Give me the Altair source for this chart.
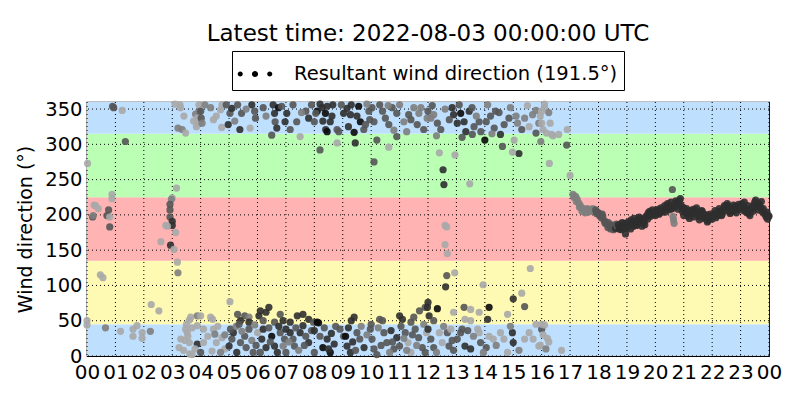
import altair as alt
import pandas as pd

title_text = "Latest time: 2022-08-03 00:00:00 UTC"
legend_label = "Resultant wind direction (191.5°)"
y_title = "Wind direction (°)"

band_lo = [0, 45, 135, 225, 315]
band_hi = [45, 135, 225, 315, 360]
band_color = ["#bfdfff", "#fffab3", "#ffb3b3", "#bbffb5", "#bfdfff"]

hour_ticks = list(range(0, 25))
dir_ticks = list(range(0, 351, 50))

# (hour of day, wind direction in degrees, wind-speed shade class 1=light .. 5=black)
obs_00_04 = [
    (0.94, 352, 3), (0.90, 354, 3), (1.24, 348, 1), (1.35, 304, 3), (0.02, 273, 1), (0.25, 214, 1),
    (0.30, 213, 1), (0.40, 209, 1), (0.20, 197, 3), (0.22, 199, 2), (0.88, 229, 1), (0.88, 223, 1),
    (0.76, 207, 3), (0.70, 199, 3), (0.80, 197, 1), (0.80, 183, 3), (0.47, 115, 1), (0.56, 111, 1),
    (0.00, 50, 1), (0.00, 44, 1), (0.65, 40, 2), (1.18, 35, 1), (1.62, 38, 1), (1.62, 28, 1),
    (1.76, 43, 1), (1.94, 33, 1), (1.94, 25, 1), (2.23, 35, 2), (2.26, 73, 1), (2.53, 64, 1),
    (3.15, 238, 1), (3.00, 224, 1), (2.97, 222, 2), (2.92, 215, 3), (2.92, 207, 3), (2.92, 197, 3),
    (3.00, 191, 4), (3.00, 185, 4), (2.77, 185, 1), (2.83, 184, 1), (3.12, 175, 1), (2.60, 162, 1),
    (2.94, 157, 4), (3.06, 151, 1), (3.18, 133, 1), (3.20, 118, 2), (3.65, 55, 1), (3.60, 51, 1),
    (3.88, 57, 2), (3.88, 43, 1), (3.47, 38, 1), (3.53, 33, 1), (3.30, 24, 1), (3.45, 22, 1),
    (3.60, 19, 1), (3.24, 12, 1), (3.70, 2, 1), (3.62, 3, 1), (3.88, 17, 4), (3.27, 356, 1),
    (3.29, 352, 1), (3.20, 323, 2), (3.35, 321, 2), (3.47, 316, 1), (3.41, 340, 1), (3.82, 343, 2),
    (3.88, 337, 1), (3.94, 330, 1), (3.94, 347, 2), (3.94, 356, 1), (3.75, 333, 1), (3.85, 325, 1),
    (3.10, 357, 1), (3.70, 40, 1), (3.55, 28, 1), (3.40, 8, 1), (3.80, 10, 1), (3.50, 45, 1),
]

obs_04_08 = [
    (4.00, 347, 3), (4.02, 337, 3), (4.05, 330, 2), (4.15, 356, 2), (4.70, 349, 1), (4.75, 356, 1),
    (4.74, 324, 1), (4.97, 328, 4), (5.03, 344, 3), (5.10, 351, 4), (4.90, 356, 3), (5.30, 356, 3),
    (5.38, 321, 4), (5.44, 344, 3), (5.74, 323, 1), (5.80, 356, 4), (5.90, 347, 3), (5.93, 337, 3),
    (6.55, 356, 4), (6.60, 344, 4), (6.62, 332, 3), (6.68, 323, 4), (6.74, 352, 5), (7.03, 344, 4),
    (6.97, 332, 4), (7.15, 321, 3), (7.38, 332, 3), (6.50, 313, 3), (7.50, 311, 1), (6.85, 354, 3),
    (7.70, 347, 3), (7.80, 337, 4), (7.90, 356, 3), (4.35, 352, 2), (4.55, 340, 1), (5.20, 333, 2),
    (5.60, 350, 2), (6.20, 352, 3), (6.30, 340, 2), (7.25, 356, 3), (7.55, 345, 2), (4.45, 335, 1),
    (5.03, 77, 1), (4.00, 57, 1), (4.35, 55, 1), (4.42, 52, 1), (5.30, 59, 3), (5.55, 57, 3),
    (5.70, 55, 2), (6.10, 64, 4), (6.05, 57, 4), (6.30, 62, 4), (6.40, 69, 4), (6.80, 59, 3),
    (7.40, 57, 4), (7.60, 59, 4), (7.80, 52, 4), (7.97, 48, 3), (5.40, 50, 4), (5.70, 48, 4),
    (6.20, 50, 3), (6.60, 48, 3), (6.90, 50, 4), (7.15, 48, 4), (4.10, 38, 1), (4.45, 38, 1),
    (4.50, 31, 2), (4.75, 26, 1), (4.55, 19, 1), (4.10, 19, 1), (4.00, 5, 3), (4.40, 7, 1),
    (4.85, 10, 1), (5.00, 14, 4), (5.10, 24, 3), (5.15, 33, 4), (5.05, 38, 3), (5.27, 5, 4),
    (5.40, 19, 3), (5.55, 28, 3), (5.70, 38, 3), (5.60, 12, 3), (5.85, 5, 3), (6.00, 33, 1),
    (6.15, 24, 4), (6.20, 38, 4), (6.30, 12, 4), (6.50, 28, 5), (6.60, 14, 4), (6.70, 5, 4),
    (6.80, 33, 3), (6.95, 24, 3), (7.00, 38, 4), (7.15, 33, 4), (7.25, 24, 3), (7.30, 14, 3),
    (7.50, 33, 4), (7.60, 43, 4), (7.70, 28, 3), (7.80, 19, 4), (7.90, 36, 3), (8.00, 5, 3),
    (7.00, 5, 3), (6.10, 5, 3), (4.60, 42, 1), (4.85, 30, 2), (5.25, 42, 2), (5.45, 35, 2),
    (5.80, 22, 2), (5.95, 15, 3), (6.40, 40, 3), (6.45, 20, 3), (6.90, 14, 2), (7.35, 40, 3),
    (7.45, 8, 2), (7.65, 15, 3), (4.25, 28, 1), (4.70, 5, 2), (5.35, 45, 3), (5.90, 44, 2),
    (6.75, 42, 4), (7.10, 20, 2),
]

obs_08_12 = [
    (8.10, 347, 5), (8.27, 352, 4), (8.39, 344, 5), (8.45, 354, 4), (8.40, 321, 4), (8.45, 318, 5),
    (8.56, 332, 4), (8.62, 340, 4), (8.80, 321, 3), (8.86, 318, 3), (9.03, 344, 4), (9.15, 351, 4),
    (9.27, 342, 4), (9.40, 317, 5), (9.44, 302, 4), (9.56, 354, 5), (9.62, 332, 5), (9.74, 321, 3),
    (9.80, 328, 3), (9.92, 347, 3), (10.03, 352, 3), (10.10, 332, 3), (10.20, 306, 3), (10.10, 275, 3),
    (10.40, 347, 3), (10.50, 337, 3), (10.62, 328, 3), (10.62, 296, 1), (10.74, 352, 3), (10.90, 344, 3),
    (10.90, 311, 3), (11.15, 332, 2), (11.32, 342, 3), (11.50, 352, 2), (11.62, 328, 3), (11.68, 344, 2),
    (11.85, 321, 3), (11.97, 337, 2), (8.20, 292, 3), (8.80, 302, 1), (8.00, 332, 3), (8.05, 344, 3),
    (8.20, 357, 4), (8.65, 356, 4), (8.95, 356, 3), (9.30, 356, 4), (9.50, 340, 4), (9.85, 357, 2),
    (10.30, 356, 3), (10.60, 355, 2), (11.00, 356, 2), (11.40, 335, 3), (11.75, 352, 2), (9.20, 325, 4),
    (8.30, 333, 4), (10.80, 320, 2), (11.25, 318, 2), (9.95, 335, 3),
    (8.10, 48, 5), (8.15, 47, 5), (9.30, 50, 4), (9.40, 55, 4), (10.30, 52, 3), (10.40, 50, 3),
    (11.00, 57, 4), (11.10, 52, 4), (11.40, 48, 3), (11.50, 55, 3), (11.70, 64, 3), (11.90, 69, 3),
    (8.00, 36, 4), (8.20, 28, 3), (8.45, 24, 4), (8.30, 12, 5), (8.70, 17, 4), (8.56, 5, 5),
    (8.90, 38, 3), (9.03, 28, 3), (9.10, 28, 5), (9.15, 14, 4), (9.27, 5, 4), (9.50, 33, 3),
    (9.60, 24, 3), (9.75, 12, 4), (9.97, 38, 3), (10.03, 24, 3), (10.10, 10, 3), (10.20, 2, 3),
    (10.45, 33, 3), (10.55, 19, 3), (10.70, 36, 4), (10.90, 26, 4), (10.80, 10, 3), (11.00, 14, 3),
    (11.20, 33, 3), (11.30, 19, 1), (11.40, 5, 1), (11.55, 38, 3), (11.67, 26, 3), (11.80, 12, 3),
    (11.90, 5, 3), (11.95, 33, 1), (8.35, 40, 3), (8.60, 32, 4), (8.75, 42, 3), (9.20, 40, 4),
    (9.45, 8, 3), (9.65, 42, 2), (9.85, 30, 2), (10.25, 40, 2), (10.35, 15, 3), (10.65, 5, 2),
    (11.05, 42, 3), (11.15, 25, 2), (11.45, 30, 3), (11.60, 15, 2), (8.50, 10, 4), (9.35, 20, 4),
    (10.00, 45, 3), (10.75, 20, 3), (11.25, 8, 2), (11.85, 45, 2),
]

obs_12_16 = [
    (12.00, 347, 3), (12.10, 337, 2), (12.20, 342, 2), (12.33, 330, 3), (12.45, 321, 3), (12.85, 352, 4),
    (12.90, 342, 4), (13.03, 330, 4), (13.15, 344, 5), (13.27, 332, 4), (13.33, 318, 4), (13.45, 347, 4),
    (13.56, 314, 3), (13.62, 325, 3), (13.80, 332, 3), (13.86, 318, 3), (14.00, 306, 5), (14.05, 332, 3),
    (14.20, 340, 3), (14.33, 323, 3), (14.38, 347, 3), (14.55, 314, 4), (14.62, 297, 3), (14.68, 328, 3),
    (14.85, 337, 3), (15.03, 306, 1), (15.20, 287, 4), (14.97, 289, 1), (15.30, 321, 3), (15.40, 337, 2),
    (15.56, 325, 1), (15.68, 342, 2), (15.80, 316, 3), (15.90, 330, 2), (15.97, 304, 2), (12.40, 288, 1),
    (12.95, 285, 1), (12.53, 264, 4), (12.56, 243, 4), (13.47, 244, 1), (12.60, 185, 1), (12.66, 183, 1),
    (12.60, 158, 1), (12.68, 145, 1), (12.66, 114, 3), (12.94, 118, 1), (12.62, 98, 4), (13.94, 101, 1),
    (15.60, 124, 1), (15.00, 81, 4), (15.30, 89, 1), (15.40, 70, 3), (12.15, 355, 3), (12.60, 350, 2),
    (12.75, 335, 3), (13.10, 356, 3), (13.55, 352, 3), (13.70, 340, 2), (14.10, 356, 2), (14.50, 345, 3),
    (14.90, 352, 2), (15.10, 340, 2), (15.50, 355, 1), (15.80, 348, 2), (12.30, 312, 2), (13.20, 310, 3),
    (14.25, 315, 2), (15.15, 330, 2),
    (12.00, 76, 4), (11.98, 69, 4), (12.33, 67, 5), (12.04, 57, 4), (12.20, 50, 3), (12.90, 62, 1),
    (13.27, 69, 3), (13.50, 66, 1), (13.80, 62, 1), (14.15, 69, 5), (14.10, 52, 4), (14.80, 59, 1),
    (13.30, 52, 1), (13.50, 50, 1), (12.00, 38, 4), (12.10, 24, 3), (12.20, 12, 3), (12.40, 33, 1),
    (12.50, 19, 1), (12.68, 33, 3), (12.74, 14, 3), (12.80, 38, 1), (13.03, 24, 3), (13.15, 33, 3),
    (13.20, 38, 3), (13.40, 36, 3), (13.30, 14, 4), (13.50, 10, 4), (13.75, 38, 1), (13.80, 33, 1),
    (13.85, 19, 3), (14.05, 12, 3), (14.15, 28, 1), (14.30, 24, 1), (14.55, 33, 1), (14.67, 24, 1),
    (14.80, 5, 1), (14.97, 33, 4), (15.00, 19, 4), (15.40, 24, 1), (15.56, 33, 1), (15.70, 24, 1),
    (15.90, 14, 1), (16.00, 38, 3), (12.30, 5, 2), (12.55, 42, 2), (12.90, 8, 3), (13.60, 28, 2),
    (14.40, 15, 2), (14.90, 42, 2), (15.20, 8, 2), (15.80, 45, 1), (12.85, 22, 3), (13.95, 5, 2),
]

obs_16_17 = [
    (16.00, 347, 1), (16.10, 352, 1), (15.95, 340, 1), (16.00, 330, 1), (16.05, 321, 1), (16.17, 316, 1),
    (16.30, 330, 1), (16.35, 314, 1), (16.40, 312, 1), (16.60, 314, 1), (16.90, 321, 1), (16.88, 299, 3),
    (16.27, 273, 1), (17.00, 256, 1), (16.10, 357, 1), (16.25, 345, 2), (16.00, 45, 1), (16.10, 44, 1),
    (16.05, 30, 1), (16.20, 25, 1), (16.25, 20, 1), (16.70, 8, 1), (15.95, 15, 1), (16.15, 10, 2),
]

obs_17_24 = [
    (17.10, 229, 2), (17.13, 225, 2), (17.15, 227, 2), (17.20, 226, 2), (17.22, 219, 2), (17.25, 222, 2),
    (17.30, 217, 2), (17.33, 211, 2), (17.35, 214, 2), (17.40, 210, 2), (17.42, 205, 2), (17.45, 209, 2),
    (17.50, 208, 2), (17.53, 203, 2), (17.55, 207, 2), (17.60, 209, 2), (17.63, 204, 2), (17.65, 206, 2),
    (17.70, 208, 2), (17.73, 205, 2), (17.75, 207, 2), (17.80, 209, 2), (17.83, 206, 2), (17.85, 205, 2),
    (17.90, 207, 3), (17.93, 202, 3), (17.95, 204, 3), (18.00, 203, 3), (18.03, 199, 3), (18.05, 200, 3),
    (18.10, 196, 3), (18.13, 201, 3), (18.15, 198, 3), (18.20, 192, 3), (18.23, 188, 3), (18.25, 190, 3),
    (18.30, 187, 3), (18.33, 182, 3), (18.35, 189, 3), (18.40, 184, 3), (18.43, 180, 3), (18.45, 186, 3),
    (18.50, 183, 3), (18.53, 179, 3), (18.55, 185, 3), (18.60, 181, 4), (18.63, 187, 3), (18.65, 184, 3),
    (18.70, 186, 4), (18.73, 180, 4), (18.75, 182, 4), (18.80, 179, 4), (18.83, 189, 4), (18.85, 185, 4),
    (18.90, 188, 4), (18.93, 181, 4), (18.95, 173, 4), (19.00, 182, 4), (19.03, 187, 4), (19.05, 190, 4),
    (19.10, 186, 4), (19.13, 180, 4), (19.15, 193, 4), (19.20, 189, 4), (19.23, 184, 4), (19.25, 195, 4),
    (19.30, 191, 4), (19.33, 185, 4), (19.35, 186, 4), (19.40, 192, 4), (19.43, 197, 4), (19.45, 195, 4),
    (19.50, 189, 4), (19.53, 184, 4), (19.55, 193, 4), (19.60, 190, 4), (19.63, 186, 4), (19.65, 197, 4),
    (19.70, 199, 4), (19.73, 194, 4), (19.75, 203, 4), (19.80, 205, 4), (19.83, 198, 4), (19.85, 200, 4),
    (19.90, 207, 4), (19.93, 201, 4), (19.95, 203, 4), (20.00, 199, 4), (20.03, 206, 4), (20.05, 205, 4),
    (20.10, 208, 4), (20.13, 201, 4), (20.15, 203, 4), (20.20, 210, 4), (20.23, 204, 4), (20.25, 206, 4),
    (20.30, 209, 4), (20.33, 213, 4), (20.35, 204, 4), (20.40, 211, 4), (20.43, 216, 4), (20.45, 207, 4),
    (20.50, 214, 4), (20.53, 208, 4), (20.55, 218, 4), (20.60, 236, 3), (20.60, 209, 4), (20.62, 198, 2),
    (20.64, 193, 2), (20.66, 188, 2), (20.70, 212, 4), (20.72, 220, 4), (20.75, 217, 4), (20.80, 208, 4),
    (20.82, 214, 4), (20.85, 220, 4), (20.88, 223, 4), (20.90, 213, 4), (20.95, 205, 4), (20.97, 211, 4),
    (21.00, 199, 4), (21.03, 208, 4), (21.05, 204, 4), (21.10, 209, 4), (21.13, 202, 4), (21.15, 198, 4),
    (21.20, 195, 4), (21.23, 203, 4), (21.25, 206, 4), (21.30, 201, 4), (21.33, 208, 4), (21.35, 197, 4),
    (21.40, 207, 4), (21.43, 202, 4), (21.45, 210, 4), (21.50, 203, 4), (21.53, 198, 4), (21.55, 193, 4),
    (21.60, 199, 4), (21.63, 206, 4), (21.65, 205, 4), (21.70, 201, 4), (21.73, 195, 4), (21.75, 196, 4),
    (21.80, 200, 4), (21.83, 190, 4), (21.85, 192, 4), (21.90, 195, 4), (21.93, 201, 4), (21.95, 198, 4),
    (22.00, 194, 4), (22.03, 199, 4), (22.05, 200, 4), (22.10, 206, 4), (22.13, 196, 4), (22.15, 203, 4),
    (22.20, 199, 4), (22.23, 205, 4), (22.25, 209, 4), (22.30, 205, 4), (22.33, 199, 4), (22.35, 201, 4),
    (22.40, 208, 4), (22.43, 213, 4), (22.45, 211, 4), (22.50, 206, 4), (22.53, 216, 4), (22.55, 213, 4),
    (22.60, 209, 4), (22.63, 202, 4), (22.65, 204, 4), (22.70, 210, 4), (22.73, 205, 4), (22.75, 214, 4),
    (22.80, 207, 4), (22.83, 212, 4), (22.85, 203, 4), (22.90, 209, 4), (22.93, 215, 4), (22.95, 212, 4),
    (23.00, 207, 4), (23.03, 211, 4), (23.05, 216, 4), (23.10, 211, 4), (23.13, 218, 4), (23.15, 205, 4),
    (23.20, 209, 4), (23.23, 203, 4), (23.25, 213, 4), (23.30, 202, 4), (23.33, 199, 4), (23.35, 206, 4),
    (23.40, 210, 4), (23.43, 205, 4), (23.45, 214, 4), (23.50, 218, 4), (23.53, 221, 4), (23.55, 212, 4),
    (23.60, 207, 4), (23.63, 214, 4), (23.65, 216, 4), (23.70, 211, 4), (23.73, 219, 4), (23.75, 205, 4),
    (23.80, 209, 4), (23.83, 203, 4), (23.85, 201, 4), (23.90, 197, 4), (23.93, 204, 4), (23.95, 194, 4),
    (23.98, 199, 4), (24.00, 198, 4),
]

rows = obs_00_04 + obs_04_08 + obs_08_12 + obs_12_16 + obs_16_17 + obs_17_24
obs = pd.DataFrame(rows, columns=["hour", "dir", "shade"])

bands_df = pd.DataFrame({"lo": band_lo, "hi": band_hi, "c": band_color,
                         "h0": [0] * len(band_lo), "h1": [24] * len(band_lo)})
vgrid_df = pd.DataFrame({"hour": hour_ticks})
hgrid_df = pd.DataFrame({"dir": dir_ticks})
legend_df = pd.DataFrame({"label": [legend_label], "hour": [12.0], "dir": [180.0]})

FONT = "DejaVu Sans"
x_scale = alt.Scale(domain=[0, 24], nice=False, zero=False)
y_scale = alt.Scale(domain=[0, 360], nice=False, zero=False)
x_axis = alt.Axis(values=hour_ticks, title=None, grid=False, ticks=False, domain=False,
                  labelFont=FONT, labelFontSize=20, labelColor="black", labelPadding=6,
                  labelFlush=False, labelOverlap=False,
                  labelExpr="datum.value == 24 ? '00' : (datum.value < 10 ? '0' + datum.value : '' + datum.value)")
y_axis = alt.Axis(values=dir_ticks, title=y_title, grid=False, ticks=False, domain=False,
                  labelFont=FONT, labelFontSize=19.5, labelColor="black", labelPadding=5,
                  titleFont=FONT, titleFontSize=19, titleFontWeight="normal", titleColor="black",
                  titlePadding=9)

bands = alt.Chart(bands_df).mark_rect().encode(
    x=alt.X("h0:Q", scale=x_scale, axis=x_axis),
    x2="h1:Q",
    y=alt.Y("lo:Q", scale=y_scale, axis=y_axis),
    y2="hi:Q",
    color=alt.Color("c:N", scale=None),
)

vgrid = alt.Chart(vgrid_df).mark_rule(color="black", strokeDash=[1, 3], strokeWidth=1).encode(
    x=alt.X("hour:Q", scale=x_scale, axis=x_axis)
)
hgrid = alt.Chart(hgrid_df).mark_rule(color="black", strokeDash=[1, 3], strokeWidth=1).encode(
    y=alt.Y("dir:Q", scale=y_scale, axis=y_axis)
)

points = alt.Chart(obs).mark_circle(size=52, opacity=0.9).encode(
    x=alt.X("hour:Q", scale=x_scale, axis=x_axis),
    y=alt.Y("dir:Q", scale=y_scale, axis=y_axis),
    color=alt.Color("shade:Q", scale=alt.Scale(domain=[1, 5], range=["#a9a9a9", "#0a0a0a"]), legend=None),
)

three_dots = ("M -0.72,0 A 0.15,0.15 0 1,0 -1.02,0 A 0.15,0.15 0 1,0 -0.72,0 Z "
              "M 0.18,0 A 0.18,0.18 0 1,0 -0.18,0 A 0.18,0.18 0 1,0 0.18,0 Z "
              "M 1.02,0 A 0.15,0.15 0 1,0 0.72,0 A 0.15,0.15 0 1,0 1.02,0 Z")

legend_layer = alt.Chart(legend_df).mark_point(color="black", opacity=0, filled=True).encode(
    x=alt.X("hour:Q", scale=x_scale, axis=x_axis),
    y=alt.Y("dir:Q", scale=y_scale, axis=y_axis),
    shape=alt.Shape("label:N", scale=alt.Scale(range=[three_dots]),
                    legend=alt.Legend(title=None, orient="none", legendX=145, legendY=-51,
                                      strokeColor="black", fillColor="white", padding=6,
                                      cornerRadius=0, symbolSize=1150, symbolFillColor="black",
                                      symbolStrokeColor="black", symbolStrokeWidth=0,
                                      symbolOpacity=1, labelFont=FONT, labelFontSize=19.5,
                                      labelColor="black", labelOffset=22, labelLimit=500)),
)

chart = alt.layer(bands, vgrid, hgrid, points, legend_layer).properties(
    width=682, height=254,
    title=alt.TitleParams(title_text, font=FONT, fontSize=23, fontWeight="normal",
                          color="black", anchor="middle", offset=5),
    padding={"left": 79, "top": 94, "right": 23, "bottom": 30},
    autosize=alt.AutoSizeParams(type="none"),
).configure_view(stroke="black", strokeWidth=1.2)

chart.save("out.html", embed_options={"renderer": "svg", "actions": False})
